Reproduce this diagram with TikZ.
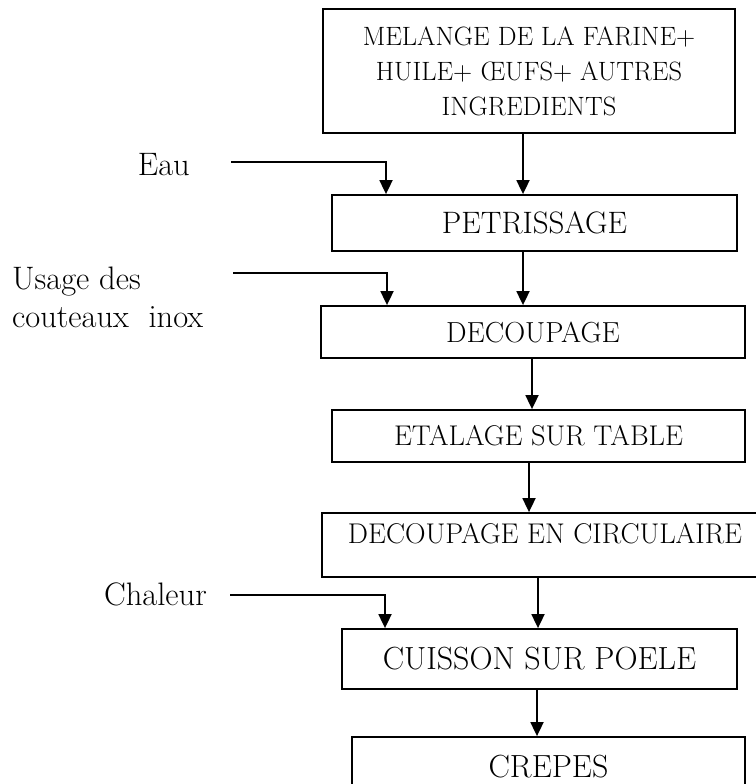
\documentclass[tikz,border=0pt]{standalone}
\usetikzlibrary{arrows.meta}
\newcommand{\fsz}[2]{\fontsize{#1}{#2}\selectfont}
\tikzset{
  stage/.style={draw, line width=1.8pt, inner sep=0pt, align=center},
  flow/.style={line width=1.8pt, -{Triangle[length=14pt,width=13pt]}},
  inlbl/.style={inner sep=0pt, align=left},
}
\begin{document}
\begin{tikzpicture}[x=1pt,y=-1pt]
\useasboundingbox (0,0) rectangle (755,784);

% process stages
\node[stage, minimum width=412pt, minimum height=124pt, font=\fsz{26.5}{35}]
  (melange) at (529,71) {MELANGE DE LA FARINE+\\HUILE+ \OE UFS+ AUTRES\\INGREDIENTS};
\node[stage, minimum width=405pt, minimum height=56pt, font=\fsz{31}{36}]
  (petri) at (534.5,223) {PETRISSAGE};
\node[stage, minimum width=424pt, minimum height=52pt, font=\fsz{29}{34}]
  (decoup) at (533,332) {DECOUPAGE};
\node[stage, minimum width=413pt, minimum height=52pt, font=\fsz{28.5}{34}]
  (etal) at (538.5,436) {ETALAGE SUR TABLE};
\node[stage, minimum width=446pt, minimum height=64pt, text depth=24pt, font=\fsz{28.5}{34}]
  (circ) at (545,545) {DECOUPAGE EN CIRCULAIRE};
\node[stage, minimum width=395pt, minimum height=60pt, font=\fsz{32}{38}]
  (cuis) at (539.5,659) {CUISSON SUR POELE};
\node[stage, minimum width=393pt, minimum height=60pt, font=\fsz{32}{38}]
  (crep) at (548.5,767) {CREPES};

% side inputs
\node[inlbl, anchor=base east, font=\fsz{32.5}{38}] (eau) at (190,175) {Eau};
\node[inlbl, anchor=north west, font=\fsz{32.5}{38}] (usage) at (12,267) {Usage des\\couteaux~~inox};
\node[inlbl, anchor=base east, font=\fsz{32.5}{38}] (chal) at (207,605) {Chaleur};

\coordinate (eauS) at (231,162);
\coordinate (usageS) at (233,273);
\coordinate (chalS) at (230,595);
\coordinate (xA) at (386,0);
\coordinate (xU) at (387,0);
\coordinate (xC) at (385,0);

\draw[flow] (eauS) -| (petri.north -| xA);
\draw[flow] (usageS) -| (decoup.north -| xU);
\draw[flow] (chalS) -| (cuis.north -| xC);

% main flow
\coordinate (m1) at (523,0);
\coordinate (m2) at (523,0);
\coordinate (m3) at (532,0);
\coordinate (m4) at (529,0);
\coordinate (m5) at (538,0);
\coordinate (m6) at (537,0);
\draw[flow] (melange.south -| m1) -- (petri.north -| m1);
\draw[flow] (petri.south -| m2) -- (decoup.north -| m2);
\draw[flow] (decoup.south -| m3) -- (etal.north -| m3);
\draw[flow] (etal.south -| m4) -- (circ.north -| m4);
\draw[flow] (circ.south -| m5) -- (cuis.north -| m5);
\draw[flow] (cuis.south -| m6) -- (crep.north -| m6);
\end{tikzpicture}
\end{document}
